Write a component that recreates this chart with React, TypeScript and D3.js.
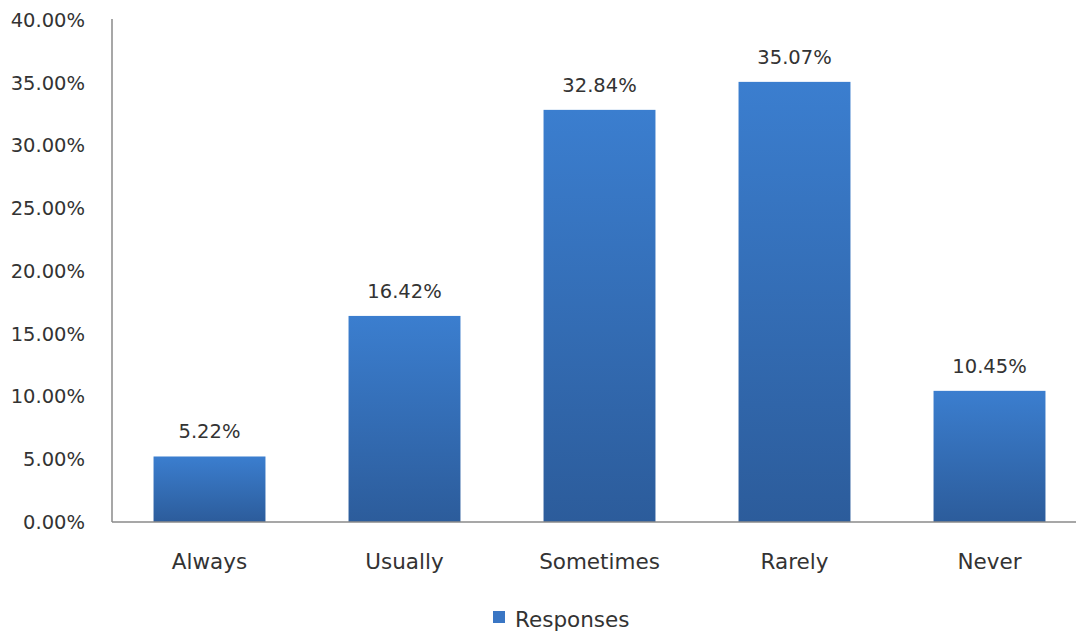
import React from "react";
import * as d3 from "d3";

const categories = ["Always", "Usually", "Sometimes", "Rarely", "Never"];
const responses = [5.22, 16.42, 32.84, 35.07, 10.45];
const yTicks = [0, 5, 10, 15, 20, 25, 30, 35, 40];
const seriesName = "Responses";

const W = 1076;
const H = 635;
const left = 112;
const right = 1087;
const top = 20;
const bottom = 522;

export default function App() {
  const x = d3.scaleBand<string>().domain(categories).range([left, right]).paddingInner(0.426).paddingOuter(0.213);
  const y = d3.scaleLinear().domain([0, 40]).range([bottom, top]);
  const textColor = "#333333";
  const numFont = { fontFamily: "DejaVu Sans, sans-serif", fontSize: 19.5 };
  const wordFont = { fontFamily: "DejaVu Sans, sans-serif", fontSize: 21.5 };

  return (
    <svg width={W} height={H} style={{ position: "absolute", left: 0, top: 0, background: "#fff" }}>
      <defs>
        <linearGradient id="barFill" x1="0" y1="0" x2="0" y2="1">
          <stop offset="0%" stopColor="#3b7ecf" />
          <stop offset="100%" stopColor="#2c5c9b" />
        </linearGradient>
      </defs>
      {/* y axis labels */}
      {yTicks.map((t) => (
        <text key={t} x={85} y={y(t)} dy="0.35em" textAnchor="end" fill={textColor} style={numFont}>
          {d3.format(".2f")(t) + "%"}
        </text>
      ))}
      {/* bars */}
      {categories.map((c, i) => (
        <rect
          key={c}
          x={x(c)}
          y={y(responses[i])}
          width={x.bandwidth()}
          height={y(0) - y(responses[i])}
          fill="url(#barFill)"
        />
      ))}
      {/* value labels */}
      {categories.map((c, i) => (
        <text
          key={c}
          x={(x(c) as number) + x.bandwidth() / 2}
          y={y(responses[i]) - 25}
          dy="0.35em"
          textAnchor="middle"
          fill={textColor}
          style={numFont}
        >
          {d3.format(".2f")(responses[i]) + "%"}
        </text>
      ))}
      {/* axes */}
      <line x1={left} x2={left} y1={top - 1} y2={bottom} stroke="#8a8a8a" strokeWidth={1.5} />
      <line x1={left} x2={right} y1={bottom} y2={bottom} stroke="#8a8a8a" strokeWidth={1.5} />
      {/* category labels */}
      {categories.map((c) => (
        <text
          key={c}
          x={(x(c) as number) + x.bandwidth() / 2}
          y={561}
          dy="0.35em"
          textAnchor="middle"
          fill={textColor}
          style={wordFont}
        >
          {c}
        </text>
      ))}
      {/* legend */}
      <rect x={493} y={611} width={12} height={12} fill="#3a76c4" />
      <text x={515} y={619} dy="0.35em" fill={textColor} style={wordFont}>
        {seriesName}
      </text>
    </svg>
  );
}
